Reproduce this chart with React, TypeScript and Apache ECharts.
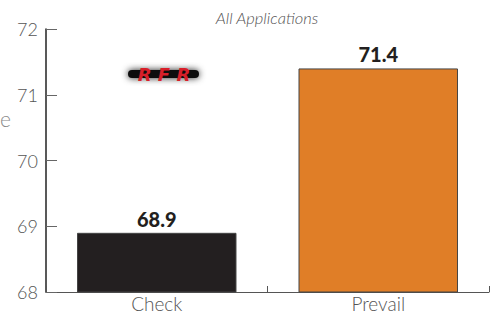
import React, { useEffect, useRef } from "react";
import * as echarts from "echarts";

const categories = ["Check", "Prevail"];
const values = [68.9, 71.4];
const barColors = ["#231f20", "#e07e27"];
const yTicks = [68, 69, 70, 71, 72];
const title = "All Applications";

export default function App() {
  const ref = useRef<HTMLDivElement>(null);
  useEffect(() => {
    const chart = echarts.init(ref.current!, null, { renderer: "svg" });
    chart.setOption({
      animation: false,
      backgroundColor: "#ffffff",
      title: {
        text: title,
        left: 262,
        top: 4,
        textAlign: "center",
        textStyle: { fontFamily: "Lato", fontStyle: "italic", fontWeight: 300, fontSize: 16.5, color: "#555" },
      },
      grid: { left: 46, right: 8, top: 29, bottom: 22 },
      xAxis: {
        type: "category",
        data: categories,
        axisLine: { lineStyle: { color: "#555", width: 1 } },
        axisTick: { show: true, inside: true, length: 6, lineStyle: { color: "#555" } },
        axisLabel: { fontFamily: "Lato", fontWeight: 300, fontSize: 19, color: "#555", margin: 2 },
      },
      yAxis: {
        type: "value",
        min: yTicks[0],
        max: yTicks[yTicks.length - 1],
        interval: 1,
        splitLine: { show: false },
        axisLine: { show: true, lineStyle: { color: "#222", width: 1.5 } },
        axisTick: { show: true, inside: true, length: 11, lineStyle: { color: "#666" } },
        axisLabel: { fontFamily: "Lato", fontWeight: 300, fontSize: 18, color: "#555", margin: 8 },
      },
      series: [
        {
          type: "bar",
          barWidth: "72%",
          data: values.map((v, i) => ({
            value: v,
            itemStyle: { color: barColors[i], borderColor: "#444", borderWidth: 1 },
          })),
          label: {
            show: true,
            position: "top",
            distance: 4,
            formatter: (p: any) => p.value.toFixed(1),
            fontFamily: "Lato",
            fontWeight: 900,
            fontSize: 20,
            color: "#231f20",
          },
        },
      ],
      graphic: [
        {
          type: "text",
          left: 0,
          top: 108,
          style: { text: "e", fontFamily: "Lato", fontWeight: 300, fontSize: 21, fill: "#888" },
        },
        {
          type: "rect",
          shape: { x: 128, y: 70, width: 71, height: 8, r: 4 },
          style: { fill: "#111", shadowBlur: 7, shadowColor: "rgba(0,0,0,0.9)" },
        },
        {
          type: "text",
          x: 164,
          y: 74,
          style: {
            text: "R F R",
            fontFamily: "DejaVu Sans",
            fontStyle: "italic",
            fontWeight: "bold",
            fontSize: 18,
            fill: "#d81f2a",
            align: "center",
            verticalAlign: "middle",
          },
        },
      ],
    });
    return () => chart.dispose();
  }, []);
  return <div ref={ref} style={{ position: "fixed", left: 0, top: 0, width: 497, height: 314 }} />;
}
